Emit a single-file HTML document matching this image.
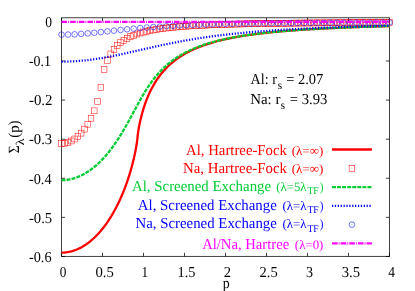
<!DOCTYPE html><html><head><meta charset="utf-8"><title>plot</title><style>html,body{margin:0;padding:0;background:#fff}svg{display:block;will-change:transform}text{font-family:"Liberation Serif",serif;text-rendering:geometricPrecision}</style></head><body>
<svg width="415" height="291" viewBox="0 0 415 291">
<rect width="415" height="291" fill="#fff"/>
<g stroke="#000" stroke-width="0.75" fill="none">
<path d="M61.5,17.75 H389.5 V256.45 H61.5 Z"/>
<path d="M61.50,256.45 v-3.6 M61.50,17.75 v3.6"/>
<path d="M102.50,256.45 v-3.6 M102.50,17.75 v3.6"/>
<path d="M143.50,256.45 v-3.6 M143.50,17.75 v3.6"/>
<path d="M184.50,256.45 v-3.6 M184.50,17.75 v3.6"/>
<path d="M225.50,256.45 v-3.6 M225.50,17.75 v3.6"/>
<path d="M266.50,256.45 v-3.6 M266.50,17.75 v3.6"/>
<path d="M307.50,256.45 v-3.6 M307.50,17.75 v3.6"/>
<path d="M348.50,256.45 v-3.6 M348.50,17.75 v3.6"/>
<path d="M389.50,256.45 v-3.6 M389.50,17.75 v3.6"/>
<path d="M61.5,21.92 h3.6 M389.5,21.92 h-3.6"/>
<path d="M61.5,61.01 h3.6 M389.5,61.01 h-3.6"/>
<path d="M61.5,100.10 h3.6 M389.5,100.10 h-3.6"/>
<path d="M61.5,139.19 h3.6 M389.5,139.19 h-3.6"/>
<path d="M61.5,178.28 h3.6 M389.5,178.28 h-3.6"/>
<path d="M61.5,217.37 h3.6 M389.5,217.37 h-3.6"/>
<path d="M61.5,256.46 h3.6 M389.5,256.46 h-3.6"/>
</g>
<path d="M61.50,252.64 L62.32,252.63 L63.14,252.60 L63.96,252.56 L64.78,252.50 L65.60,252.42 L66.42,252.32 L67.24,252.20 L68.06,252.07 L68.88,251.91 L69.70,251.74 L70.52,251.55 L71.34,251.35 L72.16,251.12 L72.98,250.88 L73.80,250.62 L74.62,250.34 L75.44,250.04 L76.26,249.72 L77.08,249.38 L77.90,249.03 L78.72,248.65 L79.54,248.26 L80.36,247.85 L81.18,247.42 L82.00,246.96 L82.82,246.49 L83.64,246.00 L84.46,245.49 L85.28,244.96 L86.10,244.41 L86.92,243.84 L87.74,243.25 L88.56,242.64 L89.38,242.00 L90.20,241.35 L91.02,240.67 L91.84,239.97 L92.66,239.25 L93.48,238.51 L94.30,237.74 L95.12,236.96 L95.94,236.15 L96.76,235.31 L97.58,234.45 L98.40,233.57 L99.22,232.66 L100.04,231.73 L100.86,230.77 L101.68,229.79 L102.50,228.78 L103.32,227.74 L104.14,226.68 L104.96,225.58 L105.78,224.46 L106.60,223.31 L107.42,222.13 L108.24,220.92 L109.06,219.68 L109.88,218.40 L110.70,217.09 L111.52,215.75 L112.34,214.37 L113.16,212.96 L113.98,211.51 L114.80,210.02 L115.62,208.50 L116.44,206.93 L117.26,205.31 L118.08,203.66 L118.90,201.96 L119.72,200.21 L120.54,198.40 L121.36,196.55 L122.18,194.64 L123.00,192.68 L123.82,190.65 L124.64,188.55 L125.46,186.39 L126.28,184.15 L127.10,181.83 L127.92,179.42 L128.74,176.92 L129.56,174.32 L130.38,171.60 L131.20,168.75 L132.02,165.76 L132.84,162.60 L133.42,160.23 L133.53,159.80 L133.63,159.37 L133.66,159.24 L133.73,158.93 L133.83,158.49 L133.94,158.05 L134.04,157.60 L134.14,157.15 L134.24,156.69 L134.35,156.23 L134.45,155.77 L134.48,155.63 L134.55,155.30 L134.65,154.82 L134.76,154.34 L134.86,153.86 L134.96,153.37 L135.06,152.87 L135.17,152.37 L135.27,151.86 L135.30,151.71 L135.37,151.34 L135.47,150.82 L135.58,150.29 L135.68,149.75 L135.78,149.20 L135.88,148.65 L135.99,148.08 L136.09,147.51 L136.12,147.34 L136.19,146.93 L136.29,146.33 L136.40,145.72 L136.50,145.10 L136.60,144.46 L136.70,143.81 L136.81,143.13 L136.91,142.44 L136.94,142.23 L137.01,141.72 L137.11,140.97 L137.22,140.18 L137.32,139.34 L137.42,138.42 L137.52,137.28 L137.63,136.15 L137.73,135.23 L137.76,134.97 L137.83,134.39 L137.93,133.61 L138.04,132.87 L138.14,132.15 L138.24,131.47 L138.34,130.81 L138.45,130.17 L138.55,129.55 L138.58,129.36 L138.65,128.94 L138.75,128.35 L138.86,127.77 L138.96,127.20 L139.06,126.65 L139.16,126.10 L139.27,125.57 L139.37,125.04 L139.40,124.89 L139.47,124.53 L139.57,124.02 L139.68,123.52 L139.78,123.03 L139.88,122.55 L139.98,122.07 L140.09,121.60 L140.19,121.13 L140.22,121.00 L140.29,120.68 L140.39,120.23 L140.50,119.78 L140.60,119.34 L140.70,118.91 L140.80,118.48 L140.91,118.05 L141.01,117.63 L141.04,117.51 L141.11,117.22 L141.21,116.81 L141.32,116.40 L141.42,116.00 L141.52,115.61 L141.62,115.21 L141.86,114.33 L142.68,111.39 L143.50,108.67 L144.32,106.12 L145.14,103.72 L145.96,101.46 L146.78,99.32 L147.60,97.29 L148.42,95.36 L149.24,93.52 L150.06,91.77 L150.88,90.09 L151.70,88.49 L152.52,86.95 L153.34,85.47 L154.16,84.05 L154.98,82.69 L155.80,81.38 L156.62,80.11 L157.44,78.89 L158.26,77.72 L159.08,76.58 L159.90,75.48 L160.72,74.42 L161.54,73.40 L162.36,72.40 L163.18,71.44 L164.00,70.51 L164.82,69.61 L165.64,68.73 L166.46,67.88 L167.28,67.05 L168.10,66.25 L168.92,65.47 L169.74,64.72 L170.56,63.98 L171.38,63.27 L172.20,62.57 L173.02,61.89 L173.84,61.23 L174.66,60.59 L175.48,59.96 L176.30,59.35 L177.12,58.76 L177.94,58.18 L178.76,57.61 L179.58,57.06 L180.40,56.52 L181.22,56.00 L182.04,55.48 L182.86,54.98 L183.68,54.50 L184.50,54.02 L185.32,53.55 L186.14,53.09 L186.96,52.65 L187.78,52.21 L188.60,51.78 L189.42,51.37 L190.24,50.96 L191.06,50.56 L191.88,50.17 L192.70,49.79 L193.52,49.41 L194.34,49.04 L195.16,48.69 L195.98,48.33 L196.80,47.99 L197.62,47.65 L198.44,47.32 L199.26,46.99 L200.08,46.68 L200.90,46.36 L201.72,46.06 L202.54,45.76 L203.36,45.46 L204.18,45.17 L205.00,44.89 L205.82,44.61 L206.64,44.34 L207.46,44.07 L208.28,43.81 L209.10,43.55 L209.92,43.30 L210.74,43.05 L211.56,42.80 L212.38,42.56 L213.20,42.33 L214.02,42.10 L214.84,41.87 L215.66,41.64 L216.48,41.42 L217.30,41.21 L218.12,40.99 L218.94,40.79 L219.76,40.58 L220.58,40.38 L221.40,40.18 L222.22,39.98 L223.04,39.79 L223.86,39.60 L224.68,39.41 L225.50,39.23 L226.32,39.05 L227.14,38.87 L227.96,38.70 L228.78,38.53 L229.60,38.36 L230.42,38.19 L231.24,38.03 L232.06,37.87 L232.88,37.71 L233.70,37.55 L234.52,37.40 L235.34,37.24 L236.16,37.09 L236.98,36.95 L237.80,36.80 L238.62,36.66 L239.44,36.52 L240.26,36.38 L241.08,36.24 L241.90,36.10 L242.72,35.97 L243.54,35.84 L244.36,35.71 L245.18,35.58 L246.00,35.46 L246.82,35.33 L247.64,35.21 L248.46,35.09 L249.28,34.97 L250.10,34.85 L250.92,34.74 L251.74,34.62 L252.56,34.51 L253.38,34.40 L254.20,34.29 L255.02,34.18 L255.84,34.08 L256.66,33.97 L257.48,33.87 L258.30,33.76 L259.12,33.66 L259.94,33.56 L260.76,33.46 L261.58,33.37 L262.40,33.27 L263.22,33.17 L264.04,33.08 L264.86,32.99 L265.68,32.90 L266.50,32.81 L267.32,32.72 L268.14,32.63 L268.96,32.54 L269.78,32.46 L270.60,32.37 L271.42,32.29 L272.24,32.20 L273.06,32.12 L273.88,32.04 L274.70,31.96 L275.52,31.88 L276.34,31.81 L277.16,31.73 L277.98,31.65 L278.80,31.58 L279.62,31.50 L280.44,31.43 L281.26,31.36 L282.08,31.28 L282.90,31.21 L283.72,31.14 L284.54,31.07 L285.36,31.01 L286.18,30.94 L287.00,30.87 L287.82,30.80 L288.64,30.74 L289.46,30.67 L290.28,30.61 L291.10,30.55 L291.92,30.48 L292.74,30.42 L293.56,30.36 L294.38,30.30 L295.20,30.24 L296.02,30.18 L296.84,30.12 L297.66,30.06 L298.48,30.01 L299.30,29.95 L300.12,29.89 L300.94,29.84 L301.76,29.78 L302.58,29.73 L303.40,29.67 L304.22,29.62 L305.04,29.57 L305.86,29.51 L306.68,29.46 L307.50,29.41 L308.32,29.36 L309.14,29.31 L309.96,29.26 L310.78,29.21 L311.60,29.16 L312.42,29.11 L313.24,29.07 L314.06,29.02 L314.88,28.97 L315.70,28.93 L316.52,28.88 L317.34,28.84 L318.16,28.79 L318.98,28.75 L319.80,28.70 L320.62,28.66 L321.44,28.62 L322.26,28.57 L323.08,28.53 L323.90,28.49 L324.72,28.45 L325.54,28.41 L326.36,28.36 L327.18,28.32 L328.00,28.28 L328.82,28.24 L329.64,28.21 L330.46,28.17 L331.28,28.13 L332.10,28.09 L332.92,28.05 L333.74,28.01 L334.56,27.98 L335.38,27.94 L336.20,27.90 L337.02,27.87 L337.84,27.83 L338.66,27.80 L339.48,27.76 L340.30,27.73 L341.12,27.69 L341.94,27.66 L342.76,27.62 L343.58,27.59 L344.40,27.56 L345.22,27.52 L346.04,27.49 L346.86,27.46 L347.68,27.43 L348.50,27.39 L349.32,27.36 L350.14,27.33 L350.96,27.30 L351.78,27.27 L352.60,27.24 L353.42,27.21 L354.24,27.18 L355.06,27.15 L355.88,27.12 L356.70,27.09 L357.52,27.06 L358.34,27.03 L359.16,27.00 L359.98,26.98 L360.80,26.95 L361.62,26.92 L362.44,26.89 L363.26,26.87 L364.08,26.84 L364.90,26.81 L365.72,26.78 L366.54,26.76 L367.36,26.73 L368.18,26.71 L369.00,26.68 L369.82,26.65 L370.64,26.63 L371.46,26.60 L372.28,26.58 L373.10,26.55 L373.92,26.53 L374.74,26.50 L375.56,26.48 L376.38,26.46 L377.20,26.43 L378.02,26.41 L378.84,26.39 L379.66,26.36 L380.48,26.34 L381.30,26.32 L382.12,26.29 L382.94,26.27 L383.76,26.25 L384.58,26.23 L385.40,26.20 L386.22,26.18 L387.04,26.16 L387.86,26.14 L388.68,26.12 L389.50,26.10" stroke="#ff0000" stroke-width="2.3" fill="none" stroke-linejoin="round"/>
<g stroke="#ff0000" stroke-width="0.5" fill="none"><rect x="58.70" y="140.49" width="5.6" height="5.9"/><path d="M61.20,143.44h0.6"/><rect x="61.98" y="140.22" width="5.6" height="5.9"/><path d="M64.48,143.17h0.6"/><rect x="65.26" y="139.40" width="5.6" height="5.9"/><path d="M67.76,142.35h0.6"/><rect x="68.54" y="138.02" width="5.6" height="5.9"/><path d="M71.04,140.97h0.6"/><rect x="71.82" y="136.05" width="5.6" height="5.9"/><path d="M74.32,139.00h0.6"/><rect x="75.10" y="133.45" width="5.6" height="5.9"/><path d="M77.60,136.40h0.6"/><rect x="78.38" y="130.18" width="5.6" height="5.9"/><path d="M80.88,133.13h0.6"/><rect x="81.66" y="126.15" width="5.6" height="5.9"/><path d="M84.16,129.10h0.6"/><rect x="84.94" y="121.24" width="5.6" height="5.9"/><path d="M87.44,124.19h0.6"/><rect x="88.22" y="115.27" width="5.6" height="5.9"/><path d="M90.72,118.22h0.6"/><rect x="91.50" y="107.90" width="5.6" height="5.9"/><path d="M94.00,110.85h0.6"/><rect x="94.78" y="98.48" width="5.6" height="5.9"/><path d="M97.28,101.43h0.6"/><rect x="98.06" y="84.71" width="5.6" height="5.9"/><path d="M100.56,87.66h0.6"/><rect x="101.34" y="66.51" width="5.6" height="5.9"/><path d="M103.84,69.46h0.6"/><rect x="104.62" y="57.34" width="5.6" height="5.9"/><path d="M107.12,60.29h0.6"/><rect x="107.90" y="51.04" width="5.6" height="5.9"/><path d="M110.40,53.99h0.6"/><rect x="111.18" y="46.35" width="5.6" height="5.9"/><path d="M113.68,49.30h0.6"/><rect x="114.46" y="42.70" width="5.6" height="5.9"/><path d="M116.96,45.65h0.6"/><rect x="117.74" y="39.78" width="5.6" height="5.9"/><path d="M120.24,42.73h0.6"/><rect x="121.02" y="37.40" width="5.6" height="5.9"/><path d="M123.52,40.35h0.6"/><rect x="124.30" y="35.42" width="5.6" height="5.9"/><path d="M126.80,38.37h0.6"/><rect x="127.58" y="33.75" width="5.6" height="5.9"/><path d="M130.08,36.70h0.6"/><rect x="130.86" y="32.34" width="5.6" height="5.9"/><path d="M133.36,35.29h0.6"/><rect x="134.14" y="31.12" width="5.6" height="5.9"/><path d="M136.64,34.07h0.6"/><rect x="137.42" y="30.06" width="5.6" height="5.9"/><path d="M139.92,33.01h0.6"/><rect x="140.70" y="29.15" width="5.6" height="5.9"/><path d="M143.20,32.10h0.6"/><rect x="143.98" y="28.34" width="5.6" height="5.9"/><path d="M146.48,31.29h0.6"/><rect x="147.26" y="27.62" width="5.6" height="5.9"/><path d="M149.76,30.57h0.6"/><rect x="150.54" y="26.99" width="5.6" height="5.9"/><path d="M153.04,29.94h0.6"/><rect x="153.82" y="26.42" width="5.6" height="5.9"/><path d="M156.32,29.37h0.6"/><rect x="157.10" y="25.92" width="5.6" height="5.9"/><path d="M159.60,28.87h0.6"/><rect x="160.38" y="25.46" width="5.6" height="5.9"/><path d="M162.88,28.41h0.6"/><rect x="163.66" y="25.05" width="5.6" height="5.9"/><path d="M166.16,28.00h0.6"/><rect x="166.94" y="24.68" width="5.6" height="5.9"/><path d="M169.44,27.63h0.6"/><rect x="170.22" y="24.34" width="5.6" height="5.9"/><path d="M172.72,27.29h0.6"/><rect x="173.50" y="24.03" width="5.6" height="5.9"/><path d="M176.00,26.98h0.6"/><rect x="176.78" y="23.74" width="5.6" height="5.9"/><path d="M179.28,26.69h0.6"/><rect x="180.06" y="23.48" width="5.6" height="5.9"/><path d="M182.56,26.43h0.6"/><rect x="183.34" y="23.24" width="5.6" height="5.9"/><path d="M185.84,26.19h0.6"/><rect x="186.62" y="23.02" width="5.6" height="5.9"/><path d="M189.12,25.97h0.6"/><rect x="189.90" y="22.82" width="5.6" height="5.9"/><path d="M192.40,25.77h0.6"/><rect x="193.18" y="22.63" width="5.6" height="5.9"/><path d="M195.68,25.58h0.6"/><rect x="196.46" y="22.45" width="5.6" height="5.9"/><path d="M198.96,25.40h0.6"/><rect x="199.74" y="22.29" width="5.6" height="5.9"/><path d="M202.24,25.24h0.6"/><rect x="203.02" y="22.14" width="5.6" height="5.9"/><path d="M205.52,25.09h0.6"/><rect x="206.30" y="22.00" width="5.6" height="5.9"/><path d="M208.80,24.95h0.6"/><rect x="209.58" y="21.86" width="5.6" height="5.9"/><path d="M212.08,24.81h0.6"/><rect x="212.86" y="21.74" width="5.6" height="5.9"/><path d="M215.36,24.69h0.6"/><rect x="216.14" y="21.63" width="5.6" height="5.9"/><path d="M218.64,24.58h0.6"/><rect x="219.42" y="21.52" width="5.6" height="5.9"/><path d="M221.92,24.47h0.6"/><rect x="222.70" y="21.41" width="5.6" height="5.9"/><path d="M225.20,24.36h0.6"/><rect x="225.98" y="21.32" width="5.6" height="5.9"/><path d="M228.48,24.27h0.6"/><rect x="229.26" y="21.23" width="5.6" height="5.9"/><path d="M231.76,24.18h0.6"/><rect x="232.54" y="21.14" width="5.6" height="5.9"/><path d="M235.04,24.09h0.6"/><rect x="235.82" y="21.06" width="5.6" height="5.9"/><path d="M238.32,24.01h0.6"/><rect x="239.10" y="20.99" width="5.6" height="5.9"/><path d="M241.60,23.94h0.6"/><rect x="242.38" y="20.91" width="5.6" height="5.9"/><path d="M244.88,23.86h0.6"/><rect x="245.66" y="20.85" width="5.6" height="5.9"/><path d="M248.16,23.80h0.6"/><rect x="248.94" y="20.78" width="5.6" height="5.9"/><path d="M251.44,23.73h0.6"/><rect x="252.22" y="20.72" width="5.6" height="5.9"/><path d="M254.72,23.67h0.6"/><rect x="255.50" y="20.66" width="5.6" height="5.9"/><path d="M258.00,23.61h0.6"/><rect x="258.78" y="20.61" width="5.6" height="5.9"/><path d="M261.28,23.56h0.6"/><rect x="262.06" y="20.55" width="5.6" height="5.9"/><path d="M264.56,23.50h0.6"/><rect x="265.34" y="20.50" width="5.6" height="5.9"/><path d="M267.84,23.45h0.6"/><rect x="268.62" y="20.45" width="5.6" height="5.9"/><path d="M271.12,23.40h0.6"/><rect x="271.90" y="20.41" width="5.6" height="5.9"/><path d="M274.40,23.36h0.6"/><rect x="275.18" y="20.37" width="5.6" height="5.9"/><path d="M277.68,23.32h0.6"/><rect x="278.46" y="20.32" width="5.6" height="5.9"/><path d="M280.96,23.27h0.6"/><rect x="281.74" y="20.28" width="5.6" height="5.9"/><path d="M284.24,23.23h0.6"/><rect x="285.02" y="20.25" width="5.6" height="5.9"/><path d="M287.52,23.20h0.6"/><rect x="288.30" y="20.21" width="5.6" height="5.9"/><path d="M290.80,23.16h0.6"/><rect x="291.58" y="20.17" width="5.6" height="5.9"/><path d="M294.08,23.12h0.6"/><rect x="294.86" y="20.14" width="5.6" height="5.9"/><path d="M297.36,23.09h0.6"/><rect x="298.14" y="20.11" width="5.6" height="5.9"/><path d="M300.64,23.06h0.6"/><rect x="301.42" y="20.08" width="5.6" height="5.9"/><path d="M303.92,23.03h0.6"/><rect x="304.70" y="20.05" width="5.6" height="5.9"/><path d="M307.20,23.00h0.6"/><rect x="307.98" y="20.02" width="5.6" height="5.9"/><path d="M310.48,22.97h0.6"/><rect x="311.26" y="19.99" width="5.6" height="5.9"/><path d="M313.76,22.94h0.6"/><rect x="314.54" y="19.97" width="5.6" height="5.9"/><path d="M317.04,22.92h0.6"/><rect x="317.82" y="19.94" width="5.6" height="5.9"/><path d="M320.32,22.89h0.6"/><rect x="321.10" y="19.92" width="5.6" height="5.9"/><path d="M323.60,22.87h0.6"/><rect x="324.38" y="19.89" width="5.6" height="5.9"/><path d="M326.88,22.84h0.6"/><rect x="327.66" y="19.87" width="5.6" height="5.9"/><path d="M330.16,22.82h0.6"/><rect x="330.94" y="19.85" width="5.6" height="5.9"/><path d="M333.44,22.80h0.6"/><rect x="334.22" y="19.83" width="5.6" height="5.9"/><path d="M336.72,22.78h0.6"/><rect x="337.50" y="19.81" width="5.6" height="5.9"/><path d="M340.00,22.76h0.6"/><rect x="340.78" y="19.79" width="5.6" height="5.9"/><path d="M343.28,22.74h0.6"/><rect x="344.06" y="19.77" width="5.6" height="5.9"/><path d="M346.56,22.72h0.6"/><rect x="347.34" y="19.75" width="5.6" height="5.9"/><path d="M349.84,22.70h0.6"/><rect x="350.62" y="19.74" width="5.6" height="5.9"/><path d="M353.12,22.69h0.6"/><rect x="353.90" y="19.72" width="5.6" height="5.9"/><path d="M356.40,22.67h0.6"/><rect x="357.18" y="19.70" width="5.6" height="5.9"/><path d="M359.68,22.65h0.6"/><rect x="360.46" y="19.69" width="5.6" height="5.9"/><path d="M362.96,22.64h0.6"/><rect x="363.74" y="19.67" width="5.6" height="5.9"/><path d="M366.24,22.62h0.6"/><rect x="367.02" y="19.66" width="5.6" height="5.9"/><path d="M369.52,22.61h0.6"/><rect x="370.30" y="19.64" width="5.6" height="5.9"/><path d="M372.80,22.59h0.6"/><rect x="373.58" y="19.63" width="5.6" height="5.9"/><path d="M376.08,22.58h0.6"/><rect x="376.86" y="19.61" width="5.6" height="5.9"/><path d="M379.36,22.56h0.6"/><rect x="380.14" y="19.60" width="5.6" height="5.9"/><path d="M382.64,22.55h0.6"/><rect x="383.42" y="19.59" width="5.6" height="5.9"/><path d="M385.92,22.54h0.6"/><rect x="386.70" y="19.58" width="5.6" height="5.9"/><path d="M389.20,22.53h0.6"/></g>
<path d="M61.50,180.15 L62.32,180.14 L63.14,180.12 L63.96,180.08 L64.78,180.02 L65.60,179.95 L66.42,179.86 L67.24,179.75 L68.06,179.63 L68.88,179.50 L69.70,179.34 L70.52,179.17 L71.34,178.99 L72.16,178.79 L72.98,178.57 L73.80,178.33 L74.62,178.08 L75.44,177.81 L76.26,177.53 L77.08,177.23 L77.90,176.91 L78.72,176.58 L79.54,176.23 L80.36,175.86 L81.18,175.48 L82.00,175.08 L82.82,174.66 L83.64,174.22 L84.46,173.77 L85.28,173.30 L86.10,172.81 L86.92,172.31 L87.74,171.79 L88.56,171.25 L89.38,170.69 L90.20,170.11 L91.02,169.52 L91.84,168.91 L92.66,168.28 L93.48,167.63 L94.30,166.97 L95.12,166.28 L95.94,165.58 L96.76,164.86 L97.58,164.11 L98.40,163.35 L99.22,162.58 L100.04,161.78 L100.86,160.96 L101.68,160.12 L102.50,159.26 L103.32,158.39 L104.14,157.49 L104.96,156.57 L105.78,155.64 L106.60,154.68 L107.42,153.70 L108.24,152.70 L109.06,151.68 L109.88,150.64 L110.70,149.58 L111.52,148.49 L112.34,147.39 L113.16,146.26 L113.98,145.12 L114.80,143.95 L115.62,142.76 L116.44,141.55 L117.26,140.32 L118.08,139.07 L118.90,137.80 L119.72,136.50 L120.54,135.19 L121.36,133.85 L122.18,132.50 L123.00,131.13 L123.82,129.74 L124.64,128.33 L125.46,126.90 L126.28,125.46 L127.10,124.00 L127.92,122.53 L128.74,121.04 L129.56,119.54 L130.38,118.04 L131.20,116.52 L132.02,115.00 L132.84,113.48 L133.42,112.39 L133.53,112.20 L133.63,112.00 L133.66,111.95 L133.73,111.81 L133.83,111.62 L133.94,111.43 L134.04,111.24 L134.14,111.05 L134.24,110.86 L134.35,110.67 L134.45,110.48 L134.48,110.42 L134.55,110.28 L134.65,110.09 L134.76,109.90 L134.86,109.71 L134.96,109.52 L135.06,109.33 L135.17,109.14 L135.27,108.95 L135.30,108.89 L135.37,108.76 L135.47,108.57 L135.58,108.38 L135.68,108.19 L135.78,108.00 L135.88,107.81 L135.99,107.62 L136.09,107.43 L136.12,107.37 L136.19,107.24 L136.29,107.05 L136.40,106.86 L136.50,106.67 L136.60,106.48 L136.70,106.29 L136.81,106.10 L136.91,105.91 L136.94,105.85 L137.01,105.72 L137.11,105.53 L137.22,105.34 L137.32,105.16 L137.42,104.97 L137.52,104.78 L137.63,104.59 L137.73,104.40 L137.76,104.35 L137.83,104.21 L137.93,104.03 L138.04,103.84 L138.14,103.65 L138.24,103.47 L138.34,103.28 L138.45,103.09 L138.55,102.91 L138.58,102.85 L138.65,102.72 L138.75,102.53 L138.86,102.35 L138.96,102.16 L139.06,101.98 L139.16,101.79 L139.27,101.61 L139.37,101.42 L139.40,101.37 L139.47,101.24 L139.57,101.05 L139.68,100.87 L139.78,100.68 L139.88,100.50 L139.98,100.32 L140.09,100.13 L140.19,99.95 L140.22,99.90 L140.29,99.77 L140.39,99.59 L140.50,99.41 L140.60,99.22 L140.70,99.04 L140.80,98.86 L140.91,98.68 L141.01,98.50 L141.04,98.45 L141.11,98.32 L141.21,98.14 L141.32,97.96 L141.42,97.78 L141.52,97.60 L141.62,97.42 L141.86,97.01 L142.68,95.60 L143.50,94.21 L144.32,92.84 L145.14,91.50 L145.96,90.18 L146.78,88.88 L147.60,87.62 L148.42,86.38 L149.24,85.16 L150.06,83.97 L150.88,82.81 L151.70,81.68 L152.52,80.57 L153.34,79.49 L154.16,78.43 L154.98,77.40 L155.80,76.40 L156.62,75.42 L157.44,74.46 L158.26,73.52 L159.08,72.61 L159.90,71.73 L160.72,70.86 L161.54,70.02 L162.36,69.19 L163.18,68.39 L164.00,67.60 L164.82,66.84 L165.64,66.09 L166.46,65.36 L167.28,64.65 L168.10,63.96 L168.92,63.28 L169.74,62.62 L170.56,61.97 L171.38,61.34 L172.20,60.72 L173.02,60.12 L173.84,59.53 L174.66,58.96 L175.48,58.40 L176.30,57.85 L177.12,57.31 L177.94,56.79 L178.76,56.27 L179.58,55.77 L180.40,55.28 L181.22,54.80 L182.04,54.33 L182.86,53.87 L183.68,53.42 L184.50,52.98 L185.32,52.55 L186.14,52.12 L186.96,51.71 L187.78,51.31 L188.60,50.91 L189.42,50.52 L190.24,50.14 L191.06,49.77 L191.88,49.40 L192.70,49.04 L193.52,48.69 L194.34,48.34 L195.16,48.01 L195.98,47.67 L196.80,47.35 L197.62,47.03 L198.44,46.72 L199.26,46.41 L200.08,46.11 L200.90,45.81 L201.72,45.52 L202.54,45.24 L203.36,44.96 L204.18,44.68 L205.00,44.41 L205.82,44.15 L206.64,43.89 L207.46,43.63 L208.28,43.38 L209.10,43.13 L209.92,42.89 L210.74,42.65 L211.56,42.42 L212.38,42.19 L213.20,41.96 L214.02,41.74 L214.84,41.52 L215.66,41.30 L216.48,41.09 L217.30,40.88 L218.12,40.68 L218.94,40.48 L219.76,40.28 L220.58,40.08 L221.40,39.89 L222.22,39.70 L223.04,39.52 L223.86,39.33 L224.68,39.15 L225.50,38.98 L226.32,38.80 L227.14,38.63 L227.96,38.46 L228.78,38.29 L229.60,38.13 L230.42,37.97 L231.24,37.81 L232.06,37.65 L232.88,37.50 L233.70,37.34 L234.52,37.19 L235.34,37.05 L236.16,36.90 L236.98,36.76 L237.80,36.62 L238.62,36.48 L239.44,36.34 L240.26,36.20 L241.08,36.07 L241.90,35.94 L242.72,35.81 L243.54,35.68 L244.36,35.55 L245.18,35.43 L246.00,35.31 L246.82,35.19 L247.64,35.07 L248.46,34.95 L249.28,34.83 L250.10,34.72 L250.92,34.60 L251.74,34.49 L252.56,34.38 L253.38,34.27 L254.20,34.17 L255.02,34.06 L255.84,33.96 L256.66,33.85 L257.48,33.75 L258.30,33.65 L259.12,33.55 L259.94,33.45 L260.76,33.36 L261.58,33.26 L262.40,33.17 L263.22,33.07 L264.04,32.98 L264.86,32.89 L265.68,32.80 L266.50,32.71 L267.32,32.62 L268.14,32.54 L268.96,32.45 L269.78,32.37 L270.60,32.28 L271.42,32.20 L272.24,32.12 L273.06,32.04 L273.88,31.96 L274.70,31.88 L275.52,31.81 L276.34,31.73 L277.16,31.65 L277.98,31.58 L278.80,31.50 L279.62,31.43 L280.44,31.36 L281.26,31.29 L282.08,31.22 L282.90,31.15 L283.72,31.08 L284.54,31.01 L285.36,30.94 L286.18,30.87 L287.00,30.81 L287.82,30.74 L288.64,30.68 L289.46,30.61 L290.28,30.55 L291.10,30.49 L291.92,30.43 L292.74,30.37 L293.56,30.30 L294.38,30.24 L295.20,30.19 L296.02,30.13 L296.84,30.07 L297.66,30.01 L298.48,29.95 L299.30,29.90 L300.12,29.84 L300.94,29.79 L301.76,29.73 L302.58,29.68 L303.40,29.63 L304.22,29.57 L305.04,29.52 L305.86,29.47 L306.68,29.42 L307.50,29.37 L308.32,29.32 L309.14,29.27 L309.96,29.22 L310.78,29.17 L311.60,29.12 L312.42,29.08 L313.24,29.03 L314.06,28.98 L314.88,28.94 L315.70,28.89 L316.52,28.84 L317.34,28.80 L318.16,28.75 L318.98,28.71 L319.80,28.67 L320.62,28.62 L321.44,28.58 L322.26,28.54 L323.08,28.50 L323.90,28.46 L324.72,28.41 L325.54,28.37 L326.36,28.33 L327.18,28.29 L328.00,28.25 L328.82,28.21 L329.64,28.18 L330.46,28.14 L331.28,28.10 L332.10,28.06 L332.92,28.02 L333.74,27.99 L334.56,27.95 L335.38,27.91 L336.20,27.88 L337.02,27.84 L337.84,27.81 L338.66,27.77 L339.48,27.74 L340.30,27.70 L341.12,27.67 L341.94,27.63 L342.76,27.60 L343.58,27.57 L344.40,27.53 L345.22,27.50 L346.04,27.47 L346.86,27.44 L347.68,27.40 L348.50,27.37 L349.32,27.34 L350.14,27.31 L350.96,27.28 L351.78,27.25 L352.60,27.22 L353.42,27.19 L354.24,27.16 L355.06,27.13 L355.88,27.10 L356.70,27.07 L357.52,27.04 L358.34,27.01 L359.16,26.98 L359.98,26.96 L360.80,26.93 L361.62,26.90 L362.44,26.87 L363.26,26.85 L364.08,26.82 L364.90,26.79 L365.72,26.77 L366.54,26.74 L367.36,26.71 L368.18,26.69 L369.00,26.66 L369.82,26.64 L370.64,26.61 L371.46,26.59 L372.28,26.56 L373.10,26.54 L373.92,26.51 L374.74,26.49 L375.56,26.47 L376.38,26.44 L377.20,26.42 L378.02,26.39 L378.84,26.37 L379.66,26.35 L380.48,26.32 L381.30,26.30 L382.12,26.28 L382.94,26.26 L383.76,26.24 L384.58,26.21 L385.40,26.19 L386.22,26.17 L387.04,26.15 L387.86,26.13 L388.68,26.11 L389.50,26.08" stroke="#00cc33" stroke-width="2.3" fill="none" stroke-dasharray="3.95 1.12"/>
<path d="M61.50,61.64 L62.32,61.64 L63.14,61.63 L63.96,61.63 L64.78,61.61 L65.60,61.60 L66.42,61.58 L67.24,61.56 L68.06,61.54 L68.88,61.51 L69.70,61.48 L70.52,61.45 L71.34,61.41 L72.16,61.37 L72.98,61.33 L73.80,61.28 L74.62,61.24 L75.44,61.18 L76.26,61.13 L77.08,61.07 L77.90,61.01 L78.72,60.95 L79.54,60.88 L80.36,60.81 L81.18,60.74 L82.00,60.66 L82.82,60.58 L83.64,60.50 L84.46,60.42 L85.28,60.33 L86.10,60.24 L86.92,60.15 L87.74,60.05 L88.56,59.96 L89.38,59.85 L90.20,59.75 L91.02,59.65 L91.84,59.54 L92.66,59.43 L93.48,59.31 L94.30,59.20 L95.12,59.08 L95.94,58.96 L96.76,58.83 L97.58,58.71 L98.40,58.58 L99.22,58.45 L100.04,58.32 L100.86,58.18 L101.68,58.04 L102.50,57.91 L103.32,57.76 L104.14,57.62 L104.96,57.48 L105.78,57.33 L106.60,57.18 L107.42,57.03 L108.24,56.88 L109.06,56.72 L109.88,56.56 L110.70,56.41 L111.52,56.25 L112.34,56.09 L113.16,55.92 L113.98,55.76 L114.80,55.59 L115.62,55.43 L116.44,55.26 L117.26,55.09 L118.08,54.92 L118.90,54.75 L119.72,54.57 L120.54,54.40 L121.36,54.22 L122.18,54.04 L123.00,53.87 L123.82,53.69 L124.64,53.51 L125.46,53.33 L126.28,53.15 L127.10,52.97 L127.92,52.78 L128.74,52.60 L129.56,52.42 L130.38,52.23 L131.20,52.05 L132.02,51.86 L132.84,51.68 L133.42,51.54 L133.53,51.52 L133.63,51.50 L133.66,51.49 L133.73,51.47 L133.83,51.45 L133.94,51.43 L134.04,51.40 L134.14,51.38 L134.24,51.36 L134.35,51.33 L134.45,51.31 L134.48,51.30 L134.55,51.29 L134.65,51.26 L134.76,51.24 L134.86,51.22 L134.96,51.19 L135.06,51.17 L135.17,51.15 L135.27,51.12 L135.30,51.12 L135.37,51.10 L135.47,51.08 L135.58,51.05 L135.68,51.03 L135.78,51.01 L135.88,50.98 L135.99,50.96 L136.09,50.94 L136.12,50.93 L136.19,50.91 L136.29,50.89 L136.40,50.87 L136.50,50.84 L136.60,50.82 L136.70,50.80 L136.81,50.77 L136.91,50.75 L136.94,50.74 L137.01,50.73 L137.11,50.70 L137.22,50.68 L137.32,50.66 L137.42,50.63 L137.52,50.61 L137.63,50.59 L137.73,50.56 L137.76,50.56 L137.83,50.54 L137.93,50.52 L138.04,50.49 L138.14,50.47 L138.24,50.45 L138.34,50.42 L138.45,50.40 L138.55,50.38 L138.58,50.37 L138.65,50.35 L138.75,50.33 L138.86,50.31 L138.96,50.28 L139.06,50.26 L139.16,50.24 L139.27,50.21 L139.37,50.19 L139.40,50.18 L139.47,50.17 L139.57,50.14 L139.68,50.12 L139.78,50.10 L139.88,50.07 L139.98,50.05 L140.09,50.03 L140.19,50.00 L140.22,49.99 L140.29,49.98 L140.39,49.95 L140.50,49.93 L140.60,49.91 L140.70,49.88 L140.80,49.86 L140.91,49.84 L141.01,49.81 L141.04,49.81 L141.11,49.79 L141.21,49.77 L141.32,49.74 L141.42,49.72 L141.52,49.70 L141.62,49.67 L141.86,49.62 L142.68,49.43 L143.50,49.25 L144.32,49.06 L145.14,48.87 L145.96,48.69 L146.78,48.50 L147.60,48.31 L148.42,48.13 L149.24,47.94 L150.06,47.76 L150.88,47.57 L151.70,47.39 L152.52,47.21 L153.34,47.02 L154.16,46.84 L154.98,46.66 L155.80,46.48 L156.62,46.30 L157.44,46.12 L158.26,45.94 L159.08,45.76 L159.90,45.58 L160.72,45.41 L161.54,45.23 L162.36,45.06 L163.18,44.88 L164.00,44.71 L164.82,44.54 L165.64,44.37 L166.46,44.19 L167.28,44.03 L168.10,43.86 L168.92,43.69 L169.74,43.52 L170.56,43.36 L171.38,43.19 L172.20,43.03 L173.02,42.86 L173.84,42.70 L174.66,42.54 L175.48,42.38 L176.30,42.22 L177.12,42.07 L177.94,41.91 L178.76,41.75 L179.58,41.60 L180.40,41.45 L181.22,41.29 L182.04,41.14 L182.86,40.99 L183.68,40.84 L184.50,40.70 L185.32,40.55 L186.14,40.40 L186.96,40.26 L187.78,40.12 L188.60,39.97 L189.42,39.83 L190.24,39.69 L191.06,39.55 L191.88,39.42 L192.70,39.28 L193.52,39.14 L194.34,39.01 L195.16,38.88 L195.98,38.74 L196.80,38.61 L197.62,38.48 L198.44,38.36 L199.26,38.23 L200.08,38.10 L200.90,37.98 L201.72,37.85 L202.54,37.73 L203.36,37.61 L204.18,37.48 L205.00,37.36 L205.82,37.24 L206.64,37.13 L207.46,37.01 L208.28,36.89 L209.10,36.78 L209.92,36.67 L210.74,36.55 L211.56,36.44 L212.38,36.33 L213.20,36.22 L214.02,36.11 L214.84,36.00 L215.66,35.90 L216.48,35.79 L217.30,35.69 L218.12,35.58 L218.94,35.48 L219.76,35.38 L220.58,35.28 L221.40,35.18 L222.22,35.08 L223.04,34.98 L223.86,34.88 L224.68,34.78 L225.50,34.69 L226.32,34.59 L227.14,34.50 L227.96,34.41 L228.78,34.31 L229.60,34.22 L230.42,34.13 L231.24,34.04 L232.06,33.95 L232.88,33.87 L233.70,33.78 L234.52,33.69 L235.34,33.61 L236.16,33.52 L236.98,33.44 L237.80,33.36 L238.62,33.27 L239.44,33.19 L240.26,33.11 L241.08,33.03 L241.90,32.95 L242.72,32.87 L243.54,32.80 L244.36,32.72 L245.18,32.64 L246.00,32.57 L246.82,32.49 L247.64,32.42 L248.46,32.34 L249.28,32.27 L250.10,32.20 L250.92,32.13 L251.74,32.06 L252.56,31.99 L253.38,31.92 L254.20,31.85 L255.02,31.78 L255.84,31.71 L256.66,31.64 L257.48,31.58 L258.30,31.51 L259.12,31.45 L259.94,31.38 L260.76,31.32 L261.58,31.25 L262.40,31.19 L263.22,31.13 L264.04,31.07 L264.86,31.01 L265.68,30.95 L266.50,30.89 L267.32,30.83 L268.14,30.77 L268.96,30.71 L269.78,30.65 L270.60,30.59 L271.42,30.54 L272.24,30.48 L273.06,30.42 L273.88,30.37 L274.70,30.31 L275.52,30.26 L276.34,30.21 L277.16,30.15 L277.98,30.10 L278.80,30.05 L279.62,30.00 L280.44,29.94 L281.26,29.89 L282.08,29.84 L282.90,29.79 L283.72,29.74 L284.54,29.69 L285.36,29.64 L286.18,29.60 L287.00,29.55 L287.82,29.50 L288.64,29.45 L289.46,29.41 L290.28,29.36 L291.10,29.31 L291.92,29.27 L292.74,29.22 L293.56,29.18 L294.38,29.13 L295.20,29.09 L296.02,29.05 L296.84,29.00 L297.66,28.96 L298.48,28.92 L299.30,28.87 L300.12,28.83 L300.94,28.79 L301.76,28.75 L302.58,28.71 L303.40,28.67 L304.22,28.63 L305.04,28.59 L305.86,28.55 L306.68,28.51 L307.50,28.47 L308.32,28.43 L309.14,28.39 L309.96,28.36 L310.78,28.32 L311.60,28.28 L312.42,28.25 L313.24,28.21 L314.06,28.17 L314.88,28.14 L315.70,28.10 L316.52,28.07 L317.34,28.03 L318.16,28.00 L318.98,27.96 L319.80,27.93 L320.62,27.89 L321.44,27.86 L322.26,27.83 L323.08,27.79 L323.90,27.76 L324.72,27.73 L325.54,27.69 L326.36,27.66 L327.18,27.63 L328.00,27.60 L328.82,27.57 L329.64,27.54 L330.46,27.51 L331.28,27.47 L332.10,27.44 L332.92,27.41 L333.74,27.38 L334.56,27.35 L335.38,27.32 L336.20,27.30 L337.02,27.27 L337.84,27.24 L338.66,27.21 L339.48,27.18 L340.30,27.15 L341.12,27.12 L341.94,27.10 L342.76,27.07 L343.58,27.04 L344.40,27.02 L345.22,26.99 L346.04,26.96 L346.86,26.94 L347.68,26.91 L348.50,26.88 L349.32,26.86 L350.14,26.83 L350.96,26.81 L351.78,26.78 L352.60,26.76 L353.42,26.73 L354.24,26.71 L355.06,26.68 L355.88,26.66 L356.70,26.63 L357.52,26.61 L358.34,26.59 L359.16,26.56 L359.98,26.54 L360.80,26.51 L361.62,26.49 L362.44,26.47 L363.26,26.45 L364.08,26.42 L364.90,26.40 L365.72,26.38 L366.54,26.36 L367.36,26.33 L368.18,26.31 L369.00,26.29 L369.82,26.27 L370.64,26.25 L371.46,26.23 L372.28,26.21 L373.10,26.18 L373.92,26.16 L374.74,26.14 L375.56,26.12 L376.38,26.10 L377.20,26.08 L378.02,26.06 L378.84,26.04 L379.66,26.02 L380.48,26.00 L381.30,25.98 L382.12,25.96 L382.94,25.94 L383.76,25.93 L384.58,25.91 L385.40,25.89 L386.22,25.87 L387.04,25.85 L387.86,25.83 L388.68,25.81 L389.50,25.80" stroke="#0000ff" stroke-width="2.3" fill="none" stroke-dasharray="1.25 1.63"/>
<g stroke="#0000ff" stroke-width="0.55" fill="none"><circle cx="61.50" cy="34.64" r="2.8"/><path d="M61.20,34.64h0.6"/><circle cx="68.06" cy="34.55" r="2.8"/><path d="M67.76,34.55h0.6"/><circle cx="74.62" cy="34.31" r="2.8"/><path d="M74.32,34.31h0.6"/><circle cx="81.18" cy="33.92" r="2.8"/><path d="M80.88,33.92h0.6"/><circle cx="87.74" cy="33.40" r="2.8"/><path d="M87.44,33.40h0.6"/><circle cx="94.30" cy="32.79" r="2.8"/><path d="M94.00,32.79h0.6"/><circle cx="100.86" cy="32.11" r="2.8"/><path d="M100.56,32.11h0.6"/><circle cx="107.42" cy="31.39" r="2.8"/><path d="M107.12,31.39h0.6"/><circle cx="113.98" cy="30.67" r="2.8"/><path d="M113.68,30.67h0.6"/><circle cx="120.54" cy="29.95" r="2.8"/><path d="M120.24,29.95h0.6"/><circle cx="127.10" cy="29.27" r="2.8"/><path d="M126.80,29.27h0.6"/><circle cx="133.66" cy="28.64" r="2.8"/><path d="M133.36,28.64h0.6"/><circle cx="140.22" cy="28.05" r="2.8"/><path d="M139.92,28.05h0.6"/><circle cx="146.78" cy="27.51" r="2.8"/><path d="M146.48,27.51h0.6"/><circle cx="153.34" cy="27.02" r="2.8"/><path d="M153.04,27.02h0.6"/><circle cx="159.90" cy="26.58" r="2.8"/><path d="M159.60,26.58h0.6"/><circle cx="166.46" cy="26.18" r="2.8"/><path d="M166.16,26.18h0.6"/><circle cx="173.02" cy="25.83" r="2.8"/><path d="M172.72,25.83h0.6"/><circle cx="179.58" cy="25.51" r="2.8"/><path d="M179.28,25.51h0.6"/><circle cx="186.14" cy="25.22" r="2.8"/><path d="M185.84,25.22h0.6"/><circle cx="192.70" cy="24.96" r="2.8"/><path d="M192.40,24.96h0.6"/><circle cx="199.26" cy="24.73" r="2.8"/><path d="M198.96,24.73h0.6"/><circle cx="205.82" cy="24.53" r="2.8"/><path d="M205.52,24.53h0.6"/><circle cx="212.38" cy="24.34" r="2.8"/><path d="M212.08,24.34h0.6"/><circle cx="218.94" cy="24.17" r="2.8"/><path d="M218.64,24.17h0.6"/><circle cx="225.50" cy="24.02" r="2.8"/><path d="M225.20,24.02h0.6"/><circle cx="232.06" cy="23.88" r="2.8"/><path d="M231.76,23.88h0.6"/><circle cx="238.62" cy="23.76" r="2.8"/><path d="M238.32,23.76h0.6"/><circle cx="245.18" cy="23.64" r="2.8"/><path d="M244.88,23.64h0.6"/><circle cx="251.74" cy="23.54" r="2.8"/><path d="M251.44,23.54h0.6"/><circle cx="258.30" cy="23.44" r="2.8"/><path d="M258.00,23.44h0.6"/><circle cx="264.86" cy="23.35" r="2.8"/><path d="M264.56,23.35h0.6"/><circle cx="271.42" cy="23.27" r="2.8"/><path d="M271.12,23.27h0.6"/><circle cx="277.98" cy="23.20" r="2.8"/><path d="M277.68,23.20h0.6"/><circle cx="284.54" cy="23.13" r="2.8"/><path d="M284.24,23.13h0.6"/><circle cx="291.10" cy="23.07" r="2.8"/><path d="M290.80,23.07h0.6"/><circle cx="297.66" cy="23.01" r="2.8"/><path d="M297.36,23.01h0.6"/><circle cx="304.22" cy="22.95" r="2.8"/><path d="M303.92,22.95h0.6"/><circle cx="310.78" cy="22.90" r="2.8"/><path d="M310.48,22.90h0.6"/><circle cx="317.34" cy="22.86" r="2.8"/><path d="M317.04,22.86h0.6"/><circle cx="323.90" cy="22.81" r="2.8"/><path d="M323.60,22.81h0.6"/><circle cx="330.46" cy="22.77" r="2.8"/><path d="M330.16,22.77h0.6"/><circle cx="337.02" cy="22.73" r="2.8"/><path d="M336.72,22.73h0.6"/><circle cx="343.58" cy="22.70" r="2.8"/><path d="M343.28,22.70h0.6"/><circle cx="350.14" cy="22.66" r="2.8"/><path d="M349.84,22.66h0.6"/><circle cx="356.70" cy="22.63" r="2.8"/><path d="M356.40,22.63h0.6"/><circle cx="363.26" cy="22.60" r="2.8"/><path d="M362.96,22.60h0.6"/><circle cx="369.82" cy="22.58" r="2.8"/><path d="M369.52,22.58h0.6"/><circle cx="376.38" cy="22.55" r="2.8"/><path d="M376.08,22.55h0.6"/><circle cx="382.94" cy="22.53" r="2.8"/><path d="M382.64,22.53h0.6"/><circle cx="389.50" cy="22.50" r="2.8"/><path d="M389.20,22.50h0.6"/></g>
<path d="M61.5,21.92 H389.5" stroke="#ff00ff" stroke-width="2.3" fill="none" stroke-dasharray="5.6 1.05 0.95 1.05"/>
<path d="M332.0,149.50 H371.9" stroke="#ff0000" stroke-width="2.3"/>
 <rect x="349.15" y="165.33" width="5.6" height="5.9" stroke="#ff0000" stroke-width="0.5" fill="none"/><path d="M351.65,168.28h0.6" stroke="#ff0000" stroke-width="0.5"/>
<path d="M332.0,187.06 H371.9" stroke="#00cc33" stroke-width="2.3" stroke-dasharray="3.95 1.12"/>
<path d="M332.0,205.84 H371.9" stroke="#0000ff" stroke-width="2.3" stroke-dasharray="1.25 1.63"/>
<circle cx="351.95" cy="224.62" r="2.8" stroke="#0000ff" stroke-width="0.55" fill="none"/><path d="M351.65,224.62h0.6" stroke="#0000ff" stroke-width="0.55"/>
<path d="M332.0,243.40 H371.9" stroke="#ff00ff" stroke-width="2.3" stroke-dasharray="5.6 1.05 0.95 1.05"/>
<text transform="translate(186.00,154.60) scale(0.9727,1)" font-size="15.2" fill="#ff0000">Al, Hartree-Fock</text>
<text transform="translate(183.00,173.40) scale(0.9778,1)" font-size="15.2" fill="#ff0000">Na, Hartree-Fock</text>
<text transform="translate(132.00,190.70) scale(0.9788,1)" font-size="15.2" fill="#00cc33">Al, Screened Exchange</text>
<text transform="translate(137.80,209.50) scale(0.9781,1)" font-size="15.2" fill="#0000ff">Al, Screened Exchange</text>
<text transform="translate(135.55,228.30) scale(0.9766,1)" font-size="15.2" fill="#0000ff">Na, Screened Exchange</text>
<text transform="translate(202.15,248.50) scale(0.9647,1)" font-size="15.2" fill="#ff00ff">Al/Na, Hartree</text>
<text transform="translate(291.75,154.60) scale(1.0144,1)" font-size="12.8" fill="#ff0000">(λ=∞)</text>
<text transform="translate(291.75,173.40) scale(1.0144,1)" font-size="12.8" fill="#ff0000">(λ=∞)</text>
<text transform="translate(276.35,190.70) scale(0.9958,1)" font-size="12.8" fill="#00cc33">(λ=5λ</text>
<text transform="translate(282.45,209.50) scale(1.0068,1)" font-size="12.8" fill="#0000ff">(λ=λ</text>
<text transform="translate(282.45,228.30) scale(1.0068,1)" font-size="12.8" fill="#0000ff">(λ=λ</text>
<text transform="translate(307.45,194.30) scale(0.9357,1)" font-size="10.3" fill="#00cc33">TF</text>
<text transform="translate(319.73,190.70) scale(0.8600,1)" font-size="12.8" fill="#00cc33">)</text>
<text transform="translate(307.45,213.10) scale(0.9357,1)" font-size="10.3" fill="#0000ff">TF</text>
<text transform="translate(319.73,209.50) scale(0.8600,1)" font-size="12.8" fill="#0000ff">)</text>
<text transform="translate(307.45,231.90) scale(0.9357,1)" font-size="10.3" fill="#0000ff">TF</text>
<text transform="translate(319.73,228.30) scale(0.8600,1)" font-size="12.8" fill="#0000ff">)</text>
<text transform="translate(294.85,248.50) scale(1.0078,1)" font-size="12.8" fill="#ff00ff">(λ=0)</text>
<text transform="translate(250.55,84.00) scale(0.9325,1)" font-size="15.2">Al: r</text>
<text transform="translate(277.65,89.00) scale(0.9600,1)" font-size="11.8">s</text>
<text transform="translate(286.25,84.00) scale(0.9518,1)" font-size="15.2">= 2.07</text>
<text transform="translate(250.15,103.60) scale(0.9829,1)" font-size="15.2">Na: r</text>
<text transform="translate(280.75,108.60) scale(0.9400,1)" font-size="11.8">s</text>
<text transform="translate(289.75,103.60) scale(0.9662,1)" font-size="15.2">= 3.93</text>
<text transform="translate(45.15,27.22) scale(0.8875,1)" font-size="15.2">0</text>
<text transform="translate(28.95,66.31) scale(0.9212,1)" font-size="15.2">-0.1</text>
<text transform="translate(28.95,105.40) scale(0.9809,1)" font-size="15.2">-0.2</text>
<text transform="translate(28.95,144.49) scale(0.9638,1)" font-size="15.2">-0.3</text>
<text transform="translate(28.95,183.58) scale(0.9408,1)" font-size="15.2">-0.4</text>
<text transform="translate(28.95,222.67) scale(0.9638,1)" font-size="15.2">-0.5</text>
<text transform="translate(28.95,261.76) scale(0.9408,1)" font-size="15.2">-0.6</text>
<text transform="translate(59.75,277.00) scale(0.8750,1)" font-size="15.2">0</text>
<text transform="translate(95.45,277.00) scale(0.9679,1)" font-size="15.2">0.5</text>
<text transform="translate(141.61,277.00) scale(0.8600,1)" font-size="15.2">1</text>
<text transform="translate(177.61,277.00) scale(0.9430,1)" font-size="15.2">1.5</text>
<text transform="translate(223.65,277.00) scale(0.9571,1)" font-size="15.2">2</text>
<text transform="translate(259.55,277.00) scale(0.9570,1)" font-size="15.2">2.5</text>
<text transform="translate(305.95,277.00) scale(0.9286,1)" font-size="15.2">3</text>
<text transform="translate(341.65,277.00) scale(0.9679,1)" font-size="15.2">3.5</text>
<text transform="translate(388.15,277.00) scale(0.8875,1)" font-size="15.2">4</text>
<text transform="translate(222.75,288.00) scale(0.9143,1)" font-size="15.2">p</text>
<text transform="translate(19.40,153.37) rotate(-90) scale(0.8600,1)" font-size="15.6">Σ</text>
<text transform="translate(23.60,145.35) rotate(-90) scale(1.1833,1)" font-size="11.8">λ</text>
<text transform="translate(19.25,137.85) rotate(-90) scale(0.9708,1)" font-size="15.4">(p)</text>
</svg></body></html>
